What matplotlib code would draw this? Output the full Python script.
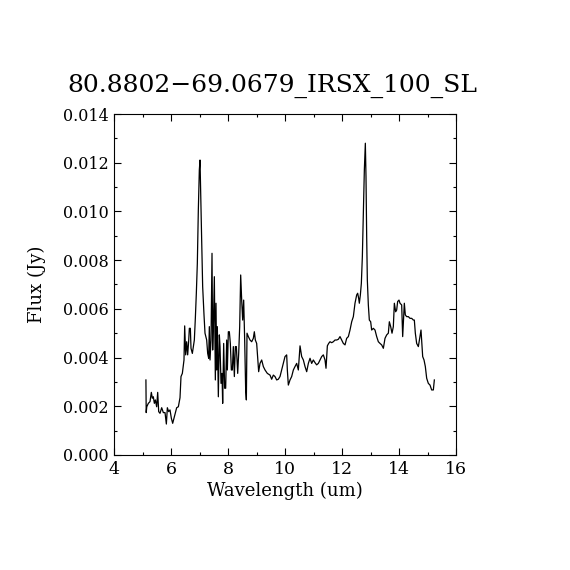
import matplotlib
matplotlib.use("Agg")
import matplotlib.pyplot as plt
from matplotlib.ticker import MultipleLocator

title = "80.8802\u221269.0679_IRSX_100_SL"
xlabel = "Wavelength (um)"
ylabel = "Flux (Jy)"

wavelength = [
    5.12, 5.13, 5.15, 5.205, 5.263, 5.310, 5.345, 5.380, 5.416, 5.451, 5.497,
    5.533, 5.568, 5.614, 5.673, 5.731, 5.790, 5.837, 5.872, 5.918, 5.965,
    6.012, 6.059, 6.106, 6.152, 6.199, 6.258, 6.316, 6.351, 6.398, 6.456,
    6.480, 6.515, 6.550, 6.585, 6.620, 6.644, 6.679, 6.702, 6.749, 6.784,
    6.819, 6.854, 6.889, 6.924, 6.959, 6.994, 7.018, 7.041, 7.076, 7.111,
    7.158, 7.193, 7.252, 7.287, 7.322, 7.345, 7.369, 7.404, 7.439, 7.462,
    7.486, 7.521, 7.556, 7.579, 7.603, 7.626, 7.661, 7.696, 7.720, 7.755,
    7.790, 7.813, 7.848, 7.883, 7.918, 7.954, 7.977, 8.012, 8.047, 8.082,
    8.117, 8.152, 8.187, 8.223, 8.258, 8.293, 8.340, 8.375, 8.410, 8.445,
    8.480, 8.515, 8.550, 8.585, 8.620, 8.644, 8.667, 8.714, 8.772, 8.831,
    8.889, 8.924, 8.959, 9.006, 9.076, 9.123, 9.182, 9.240, 9.299, 9.380,
    9.474, 9.532, 9.591, 9.649, 9.708, 9.766, 9.825, 9.883, 9.942, 10.000,
    10.059, 10.082, 10.117, 10.176, 10.234, 10.293, 10.351, 10.410, 10.468,
    10.527, 10.585, 10.644, 10.702, 10.761, 10.819, 10.878, 10.936, 10.994,
    11.053, 11.111, 11.170, 11.228, 11.287, 11.345, 11.404, 11.439, 11.486,
    11.532, 11.579, 11.638, 11.696, 11.755, 11.813, 11.872, 11.930, 11.989,
    12.047, 12.106, 12.164, 12.223, 12.281, 12.340, 12.398, 12.456, 12.515,
    12.550, 12.585, 12.608, 12.644, 12.679, 12.714, 12.749, 12.784, 12.819,
    12.842, 12.866, 12.889, 12.924, 12.959, 13.006, 13.041, 13.100, 13.158,
    13.217, 13.275, 13.334, 13.392, 13.451, 13.509, 13.568, 13.626, 13.661,
    13.708, 13.755, 13.801, 13.837, 13.883, 13.918, 13.953, 14.000, 14.035,
    14.094, 14.129, 14.187, 14.222, 14.269, 14.328, 14.386, 14.445, 14.503,
    14.538, 14.573, 14.620, 14.679, 14.737, 14.772, 14.807, 14.831, 14.878,
    14.924, 14.971, 15.029, 15.088, 15.146, 15.205, 15.240,
]

flux = [
    0.00308, 0.00174, 0.00198, 0.00212, 0.00219, 0.00257, 0.00233, 0.00239,
    0.00212, 0.00226, 0.00198, 0.00257, 0.00178, 0.00171, 0.00194, 0.00174,
    0.00174, 0.00127, 0.00194, 0.00178, 0.00185, 0.00151, 0.00130, 0.00151,
    0.00171, 0.00194, 0.00198, 0.00235, 0.00322, 0.00335, 0.00390, 0.00530,
    0.00411, 0.00465, 0.00411, 0.00468, 0.00520, 0.00520, 0.00438, 0.00417,
    0.00445, 0.00472, 0.00561, 0.00664, 0.00787, 0.01006, 0.01170, 0.01211,
    0.01088, 0.00883, 0.00691, 0.00575, 0.00500, 0.00472, 0.00417, 0.00397,
    0.00527, 0.00390, 0.00472, 0.00828, 0.00431, 0.00527, 0.00732, 0.00308,
    0.00623, 0.00349, 0.00527, 0.00239, 0.00493, 0.00445, 0.00294, 0.00335,
    0.00212, 0.00458, 0.00274, 0.00274, 0.00472, 0.00349, 0.00506, 0.00506,
    0.00458, 0.00349, 0.00349, 0.00445, 0.00322, 0.00445, 0.00445, 0.00335,
    0.00417, 0.00527, 0.00739, 0.00636, 0.00554, 0.00636, 0.00472, 0.00267,
    0.00226, 0.00500, 0.00486, 0.00472, 0.00465, 0.00479, 0.00506, 0.00472,
    0.00458, 0.00342, 0.00376, 0.00390, 0.00363, 0.00349, 0.00335, 0.00328,
    0.00311, 0.00328, 0.00322, 0.00308, 0.00311, 0.00322, 0.00349, 0.00376,
    0.00404, 0.00411, 0.00349, 0.00287, 0.00308, 0.00322, 0.00349, 0.00363,
    0.00376, 0.00349, 0.00448, 0.00404, 0.00390, 0.00363, 0.00342, 0.00376,
    0.00397, 0.00376, 0.00390, 0.00379, 0.00370, 0.00376, 0.00390, 0.00404,
    0.00411, 0.00390, 0.00356, 0.00448, 0.00458, 0.00465, 0.00461, 0.00465,
    0.00472, 0.00472, 0.00475, 0.00486, 0.00472, 0.00458, 0.00452, 0.00479,
    0.00486, 0.00513, 0.00547, 0.00568, 0.00623, 0.00657, 0.00664, 0.00643,
    0.00623, 0.00657, 0.00705, 0.00814, 0.00985, 0.01170, 0.01280, 0.01143,
    0.00896, 0.00718, 0.00616, 0.00554, 0.00547, 0.00513, 0.00520, 0.00513,
    0.00486, 0.00465, 0.00458, 0.00452, 0.00438, 0.00479, 0.00493, 0.00500,
    0.00547, 0.00527, 0.00500, 0.00527, 0.00623, 0.00588, 0.00595, 0.00630,
    0.00636, 0.00623, 0.00616, 0.00486, 0.00623, 0.00575, 0.00568, 0.00568,
    0.00561, 0.00561, 0.00554, 0.00554, 0.00500, 0.00458, 0.00445, 0.00486,
    0.00513, 0.00445, 0.00404, 0.00390, 0.00363, 0.00315, 0.00294, 0.00287,
    0.00267, 0.00267, 0.00308,
]

xticks = [4, 6, 8, 10, 12, 14, 16]
yticks = [0.000, 0.002, 0.004, 0.006, 0.008, 0.010, 0.012, 0.014]

plt.rcParams['font.family'] = ['DejaVu Serif']

fig = plt.figure(figsize=(5.7, 5.7), dpi=100)
ax = fig.add_axes([0.2, 0.2018, 0.6, 0.5982])
ax.plot(wavelength, flux, color='black', linewidth=0.9)

ax.set_xlim(4, 16)
ax.set_ylim(0, 0.014)
ax.set_xticks(xticks)
ax.set_yticks(yticks)
ax.set_xticklabels([str(t) for t in xticks])
ax.set_yticklabels([f"{t:.3f}" for t in yticks])
ax.xaxis.set_minor_locator(MultipleLocator(1))
ax.yaxis.set_minor_locator(MultipleLocator(0.001))
ax.tick_params(which='both', direction='in', top=True, right=True,
               width=0.8, colors='black')
ax.tick_params(which='major', length=5)
ax.tick_params(which='minor', length=2.5)
ax.tick_params(axis='y', labelsize=11.5, pad=4)
ax.tick_params(axis='x', labelsize=12.5, pad=4)
for s in ax.spines.values():
    s.set_linewidth(0.8)

ax.set_xlabel(xlabel, fontsize=13, labelpad=3)
ax.set_ylabel(ylabel, fontsize=13, labelpad=12)
ax.set_title(title, fontsize=18, pad=16, x=0.462)

fig.savefig("out.png", dpi=100, facecolor='white')
